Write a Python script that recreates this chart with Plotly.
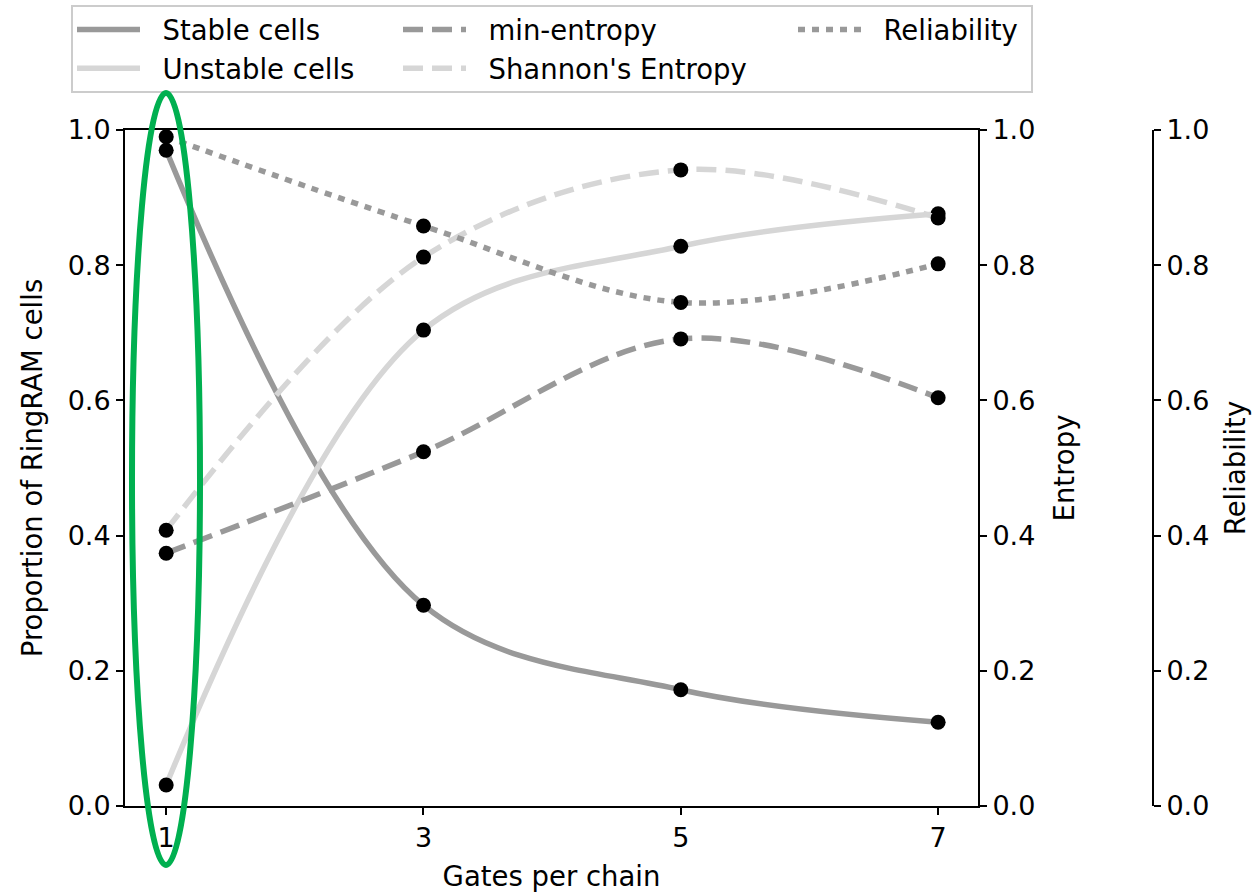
import plotly.graph_objects as go

gates = [1, 3, 5, 7]
stable = [0.970, 0.297, 0.172, 0.124]
unstable = [0.031, 0.704, 0.828, 0.876]
min_entropy = [0.374, 0.524, 0.691, 0.604]
shannon = [0.408, 0.812, 0.941, 0.870]
reliability = [0.990, 0.858, 0.745, 0.802]

FONT = "DejaVu Sans"
FS_TICK = 27
FS = 27.5
DARK = "#999999"
LIGHT = "#d6d6d6"
W = 1257
H = 892
ML, MR, MT, MB = 125, 60, 130, 86
PW = W - ML - MR
PH = H - MT - MB


def px(x):
    return (x - ML) / PW


def py(y):
    return (H - MB - y) / PH


fig = go.Figure()

series = [
    ("Stable cells", stable, "y", DARK, "solid", "legend"),
    ("Unstable cells", unstable, "y", LIGHT, "solid", "legend"),
    ("min-entropy", min_entropy, "y2", DARK, "20px,9px", "legend2"),
    ("Shannon's Entropy", shannon, "y2", LIGHT, "20px,9px", "legend2"),
    ("Reliability", reliability, "y3", DARK, "7px,7px", "legend3"),
]

for name, vals, yax, color, dash, leg in series:
    fig.add_trace(go.Scatter(
        x=gates, y=vals, yaxis=yax, mode="lines", name="\u00a0\u00a0" + name,
        line=dict(color=color, width=5.5, dash=dash, shape="spline", smoothing=1.0),
        legend=leg, hoverinfo="skip",
    ))
for name, vals, yax, color, dash, leg in series:
    fig.add_trace(go.Scatter(
        x=gates, y=vals, yaxis=yax, mode="markers", showlegend=False,
        marker=dict(color="black", size=15, symbol="circle"),
    ))

xdom_end = px(978)
tickfont = dict(family=FONT, size=FS_TICK, color="black")
common_y = dict(range=[0, 1], tickvals=[0, 0.2, 0.4, 0.6, 0.8, 1.0], tickformat=".1f",
                ticks="outside", ticklen=7, tickwidth=2, tickcolor="black",
                showline=True, linewidth=2, linecolor="black", showgrid=False,
                zeroline=False, tickfont=tickfont)

leg_common = dict(orientation="v", font=dict(family=FONT, size=FS, color="black"),
                  bgcolor="rgba(0,0,0,0)", borderwidth=0, itemwidth=63,
                  yanchor="top", xanchor="left", y=py(5), tracegroupgap=0)

fig.update_layout(
    width=W, height=H,
    margin=dict(l=ML, r=MR, t=MT, b=MB, autoexpand=False),
    plot_bgcolor="white", paper_bgcolor="white",
    font=dict(family=FONT, size=FS, color="black"),
    xaxis=dict(domain=[0, xdom_end], range=[0.68, 7.31], tickvals=[1, 3, 5, 7],
               ticks="outside", ticklen=7, tickwidth=2, tickcolor="black",
               showline=True, linewidth=2, linecolor="black", mirror=True,
               showgrid=False, zeroline=False, tickfont=tickfont, automargin=False,
               title=dict(text="Gates per chain", font=dict(family=FONT, size=FS), standoff=14)),
    yaxis=dict(**common_y, automargin=False, title=dict(text="Proportion of RingRAM cells",
                                      font=dict(family=FONT, size=FS), standoff=17)),
    yaxis2=dict(**common_y, overlaying="y", side="right", anchor="x", automargin=False,
                title=dict(text="Entropy", font=dict(family=FONT, size=FS), standoff=20)),
    yaxis3=dict(**common_y, overlaying="y", side="right", anchor="free", automargin=False,
                position=px(1153),
                title=dict(text="Reliability", font=dict(family=FONT, size=FS), standoff=16)),
    legend=dict(**leg_common, x=px(72)),
    legend2=dict(**leg_common, x=px(398)),
    legend3=dict(**leg_common, x=px(793)),
    shapes=[
        dict(type="rect", xref="paper", yref="paper", x0=px(72), x1=px(1032),
             y0=py(92), y1=py(6), line=dict(color="#cccccc", width=2), layer="above"),
        dict(type="circle", xref="paper", yref="paper", x0=px(132), x1=px(200),
             y0=py(865), y1=py(93), line=dict(color="#00b050", width=6), layer="above"),
    ],
    showlegend=True,
)

fig.write_html("out.html")
